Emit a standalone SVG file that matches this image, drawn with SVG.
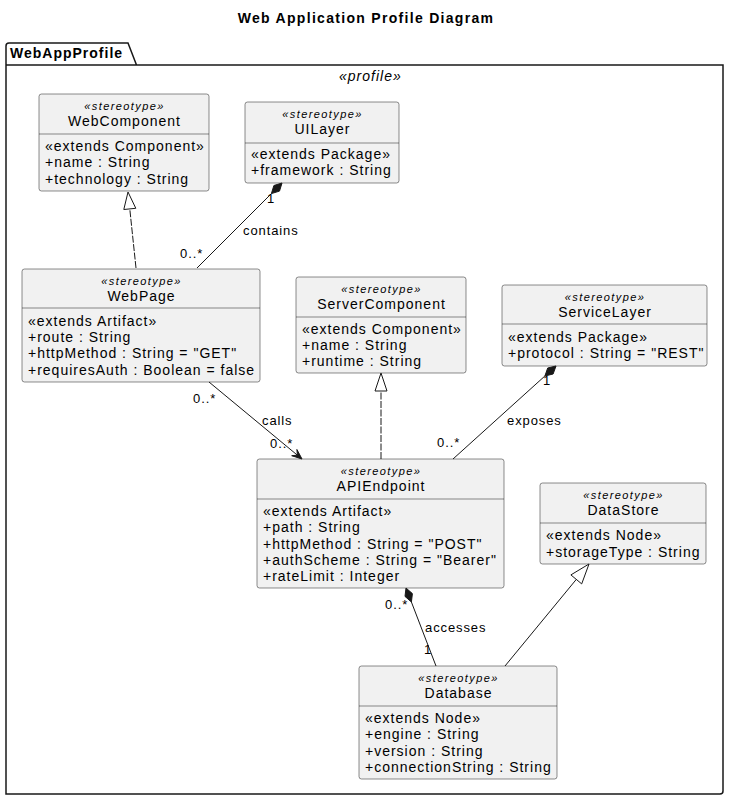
<svg xmlns="http://www.w3.org/2000/svg" width="738" height="810" viewBox="0 0 738 810">
<style>
text{font-family:"Liberation Sans",Arial,sans-serif;fill:#000}
.title{font-size:14px;font-weight:bold;letter-spacing:1.3px}
.pkg{font-size:14px;font-weight:bold;letter-spacing:1px}
.prof{font-size:14px;font-style:italic;letter-spacing:1px}
.st{font-size:11px;font-style:italic;letter-spacing:1.4px;text-anchor:middle}
.nm{font-size:14px;letter-spacing:1px;text-anchor:middle}
.at{font-size:14px;letter-spacing:1px}
.lb{font-size:13px;letter-spacing:0.9px}
.box{fill:#F1F1F1;stroke:#181818;stroke-width:0.5}
.sep{stroke:#181818;stroke-width:0.5}
.ln{fill:none;stroke:#181818;stroke-width:1}
.dash{stroke-dasharray:7,1.5}
.hollow{fill:#FFFFFF;stroke:#181818;stroke-width:1}
.solid{fill:#181818;stroke:#181818;stroke-width:1}
</style>
<rect width="738" height="810" fill="#FFFFFF"/>
<text class="title" x="366" y="23" text-anchor="middle">Web Application Profile Diagram</text>
<g id="WebAppProfile">
<path d="M6,65 L6,46 Q6,43 9,43 L128,43 L136.5,65 M6,65 L6,794 L720,794 Q723,794 723,791 L723,65 L6,65" fill="none" stroke="#181818" stroke-width="1.5"/>
<text class="pkg" x="10" y="58">WebAppProfile</text>
<text class="prof" x="339" y="81">«profile»</text>
</g>
<g id="WebComponent">
<rect class="box" x="39" y="94" width="170" height="97" rx="2.5"/>
<line class="sep" x1="39" y1="134" x2="209" y2="134"/>
<text class="st" x="124.5" y="110">«stereotype»</text>
<text class="nm" x="124.5" y="126">WebComponent</text>
<text class="at" x="45" y="151">«extends Component»</text>
<text class="at" x="45" y="167">+name : String</text>
<text class="at" x="45" y="184">+technology : String</text>
</g>
<g id="UILayer">
<rect class="box" x="245" y="102" width="154" height="81" rx="2.5"/>
<line class="sep" x1="245" y1="143" x2="399" y2="143"/>
<text class="st" x="322.5" y="118">«stereotype»</text>
<text class="nm" x="322.5" y="134">UILayer</text>
<text class="at" x="251" y="159">«extends Package»</text>
<text class="at" x="251" y="175">+framework : String</text>
</g>
<g id="WebPage">
<rect class="box" x="22" y="269" width="238" height="113" rx="2.5"/>
<line class="sep" x1="22" y1="308" x2="260" y2="308"/>
<text class="st" x="141.5" y="285">«stereotype»</text>
<text class="nm" x="141.5" y="301">WebPage</text>
<text class="at" x="28" y="326">«extends Artifact»</text>
<text class="at" x="28" y="342">+route : String</text>
<text class="at" x="28" y="358">+httpMethod : String = "GET"</text>
<text class="at" x="28" y="375">+requiresAuth : Boolean = false</text>
</g>
<g id="ServerComponent">
<rect class="box" x="296" y="277" width="170" height="96" rx="2.5"/>
<line class="sep" x1="296" y1="317" x2="466" y2="317"/>
<text class="st" x="381.5" y="293">«stereotype»</text>
<text class="nm" x="381.5" y="309">ServerComponent</text>
<text class="at" x="302" y="334">«extends Component»</text>
<text class="at" x="302" y="350">+name : String</text>
<text class="at" x="302" y="366">+runtime : String</text>
</g>
<g id="ServiceLayer">
<rect class="box" x="502" y="285" width="205" height="81" rx="2.5"/>
<line class="sep" x1="502" y1="324" x2="707" y2="324"/>
<text class="st" x="605" y="301">«stereotype»</text>
<text class="nm" x="605" y="317">ServiceLayer</text>
<text class="at" x="508" y="342">«extends Package»</text>
<text class="at" x="508" y="358">+protocol : String = "REST"</text>
</g>
<g id="APIEndpoint">
<rect class="box" x="257" y="459" width="247" height="129" rx="2.5"/>
<line class="sep" x1="257" y1="499" x2="504" y2="499"/>
<text class="st" x="381" y="475">«stereotype»</text>
<text class="nm" x="381" y="491">APIEndpoint</text>
<text class="at" x="263" y="516">«extends Artifact»</text>
<text class="at" x="263" y="532">+path : String</text>
<text class="at" x="263" y="549">+httpMethod : String = "POST"</text>
<text class="at" x="263" y="565">+authScheme : String = "Bearer"</text>
<text class="at" x="263" y="581">+rateLimit : Integer</text>
</g>
<g id="DataStore">
<rect class="box" x="540" y="483" width="166" height="81" rx="2.5"/>
<line class="sep" x1="540" y1="523" x2="706" y2="523"/>
<text class="st" x="623.5" y="499">«stereotype»</text>
<text class="nm" x="623.5" y="515">DataStore</text>
<text class="at" x="546" y="540">«extends Node»</text>
<text class="at" x="546" y="557">+storageType : String</text>
</g>
<g id="Database">
<rect class="box" x="359" y="666" width="198" height="113" rx="2.5"/>
<line class="sep" x1="359" y1="706" x2="557" y2="706"/>
<text class="st" x="458.5" y="682">«stereotype»</text>
<text class="nm" x="458.5" y="698">Database</text>
<text class="at" x="365" y="723">«extends Node»</text>
<text class="at" x="365" y="739">+engine : String</text>
<text class="at" x="365" y="756">+version : String</text>
<text class="at" x="365" y="772">+connectionString : String</text>
</g>
<g id="connectors">
<line class="ln dash" x1="136" y1="268" x2="129.8" y2="209"/>
<polygon class="hollow" points="128,192 135.8,208.3 123.8,209.5"/>
<line class="ln" x1="197" y1="268" x2="271.4" y2="193.6"/>
<polygon class="solid" points="282,183 279.5,191.1 271.4,193.6 273.9,185.5"/>
<text class="lb" x="267" y="203">1</text>
<text class="lb" x="243" y="235">contains</text>
<text class="lb" x="180" y="258">0..*</text>
<line class="ln" x1="209" y1="382" x2="298" y2="455.7"/>
<polygon class="solid" points="302,459 291.7,455.7 297.4,455.2 296.9,449.5"/>
<text class="lb" x="193" y="403">0..*</text>
<text class="lb" x="262" y="425">calls</text>
<text class="lb" x="270" y="448">0..*</text>
<line class="ln dash" x1="381" y1="459" x2="381" y2="391"/>
<polygon class="hollow" points="381,373 387,391 375,391"/>
<line class="ln" x1="453" y1="459" x2="544.9" y2="376"/>
<polygon class="solid" points="556,366 553.1,374 544.9,376 547.7,368"/>
<text class="lb" x="543" y="385">1</text>
<text class="lb" x="507" y="425">exposes</text>
<text class="lb" x="437" y="447">0..*</text>
<line class="ln" x1="411.4" y1="602" x2="436" y2="666"/>
<polygon class="solid" points="406,588 412.4,593.6 411.4,602 405,596.4"/>
<text class="lb" x="385" y="609">0..*</text>
<text class="lb" x="425" y="632">accesses</text>
<text class="lb" x="424" y="654">1</text>
<line class="ln" x1="505" y1="666" x2="576.3" y2="579.4"/>
<polygon class="hollow" points="589,564 581.7,583.9 570.9,574.9"/>
</g>
</svg>
